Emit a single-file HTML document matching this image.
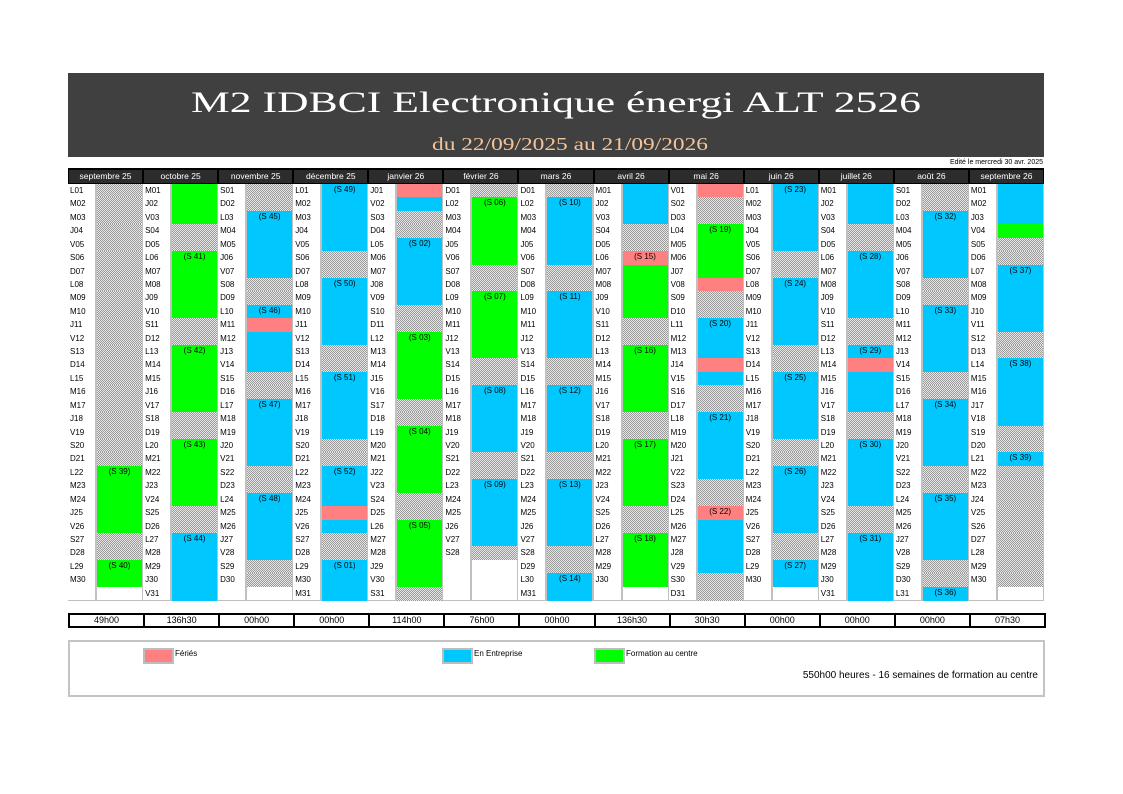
<!DOCTYPE html>
<html><head><meta charset="utf-8">
<style>
body{margin:0;background:#fff;width:1123px;height:794px;position:relative;overflow:hidden;font-family:"Liberation Sans",sans-serif;}
.abs{position:absolute;}
.hatch{background-color:#c4c4c4;background-image:repeating-conic-gradient(#9a9a9a 0 25%,#e6e6e6 0 50%);background-size:2px 2px;}
.lbl{position:absolute;font-size:8px;color:#000;line-height:13px;padding-left:2px;white-space:nowrap;}
.bar{position:absolute;}
.wk{position:absolute;font-size:8px;width:100%;text-align:center;top:1px;color:#000;}
.mh{position:absolute;top:170px;height:13px;background:#2c2c2c;color:#fff;font-size:8.5px;text-align:center;line-height:13px;}
.tot{position:absolute;top:613px;height:11px;border:2px solid #000;font-size:9px;line-height:11px;text-align:center;background:#fff;box-sizing:content-box;}
.sw{position:absolute;top:648px;width:27px;height:12px;border:2px solid #bdbdbd;}
.lt{position:absolute;top:649px;font-size:8px;}
</style></head>
<body>
<div class="abs" style="left:68px;top:73px;width:976px;height:84px;background:#404040;">
<svg width="976" height="84" style="position:absolute;left:0;top:0">
<text x="123" y="39" textLength="730" lengthAdjust="spacingAndGlyphs" font-family="Liberation Serif, serif" font-size="30" fill="#fff">M2 IDBCI Electronique énergi ALT 2526</text>
<text x="364" y="77" textLength="276" lengthAdjust="spacingAndGlyphs" font-family="Liberation Serif, serif" font-size="18" fill="#f3c49a">du 22/09/2025 au 21/09/2026</text>
</svg></div>
<div class="abs" style="right:80px;top:159px;font-size:7px;">Edité le mercredi 30 avr. 2025</div>
<div class="abs" style="left:68px;top:168px;width:976px;height:16px;background:#000;"></div>
<div class="abs" style="left:68px;top:184px;width:976px;height:417px;background:#c0c0c0;"></div>
<div id="cal"></div>
<div class="abs" style="left:68px;top:640px;width:973px;height:53px;border:2px solid #c4c4c4;"></div>
<div class="sw" style="left:143px;background:#ff8080;"></div>
<div class="lt" style="left:175px;">Fériés</div>
<div class="sw" style="left:442px;background:#00c8ff;"></div>
<div class="lt" style="left:474px;">En Entreprise</div>
<div class="sw" style="left:594px;background:#00ff00;"></div>
<div class="lt" style="left:626px;">Formation au centre</div>
<div class="abs" style="right:85px;top:670px;font-size:10px;">550h00 heures - 16 semaines de formation au centre</div>
<script>
const months=["septembre 25","octobre 25","novembre 25","décembre 25","janvier 26","février 26","mars 26","avril 26","mai 26","juin 26","juillet 26","août 26","septembre 26"];
const years=[2025,2025,2025,2025,2026,2026,2026,2026,2026,2026,2026,2026,2026];
const monthIdx=[8,9,10,11,0,1,2,3,4,5,6,7,8];
const dayStatus=[
"WWWWWWWWWWWWWWWWWWWWWFFFFFWWFF",
"FFFWWFFFFFWWFFFFFWWFFFFFWWEEEEE",
"WWEEEEEWWEHEEEWWEEEEEWWEEEEEWW",
"EEEEEWWEEEEEWWEEEEEWWEEEHEWWEEE",
"HEWWEEEEEWWFFFFFWWFFFFFWWFFFFFW",
"WFFFFFWWFFFFFWWEEEEEWWEEEEEW",
"WEEEEEWWEEEEEWWEEEEEWWEEEEEWWEE",
"EEEWWHFFFFWWFFFFFWWFFFFFWWFFFF",
"HWWFFFFHWWEEEHEWWEEEEEWWHEEEEWW",
"EEEEEWWEEEEEWWEEEEEWWEEEEEWWEE",
"EEEWWEEEEEWWEHEEEWWEEEEEWWEEEEE",
"WWEEEEEWWEEEEEWWEEEEEWWEEEEEWWE",
"EEEFWWEEEEEWWEEEEEWEWWWWWWWWWWW".slice(0,0)+"EEEFWWEEEEEWWEEEEEWWEWWWWWWWWW"
];
const totals=["49h00","136h30","00h00","00h00","114h00","76h00","00h00","136h30","30h30","00h00","00h00","00h00","07h30"];
const startDate=new Date(2025,8,22), endDate=new Date(2026,8,21);
const colors={E:"#00c8ff",F:"#00ff00",H:"#ff8080"};
const dn=["D","L","M","M","J","V","S"];
const X0=68,CW=976/13,Y0=184,RH=13.42;
function isoWeek(d){const t=new Date(Date.UTC(d.getFullYear(),d.getMonth(),d.getDate()));const day=t.getUTCDay()||7;t.setUTCDate(t.getUTCDate()+4-day);const y0=new Date(Date.UTC(t.getUTCFullYear(),0,1));return Math.ceil(((t-y0)/86400000+1)/7);}
const cal=document.getElementById('cal');
months.forEach((m,i)=>{
  const x=X0+i*CW;
  const h=document.createElement('div');h.className='mh';
  
  
  h.style.left=(x+1)+'px';h.style.width=(CW-2)+'px';h.textContent=m;cal.appendChild(h);
  const lc=document.createElement('div');lc.className='abs';
  
  
  lc.style.cssText=`left:${x}px;top:${Y0}px;width:27px;height:${31*RH}px;background:#fff`;cal.appendChild(lc);
  const bc=document.createElement('div');bc.className='abs';
  
  
  bc.style.cssText=`left:${x+29}px;top:${Y0}px;width:45px;height:${31*RH}px;background:#fff`;cal.appendChild(bc);
  const st=dayStatus[i];
  for(let d=1;d<=st.length;d++){
    const date=new Date(years[i],monthIdx[i],d);
    const y=Y0+(d-1)*RH;
    const l=document.createElement('div');l.className='lbl';
    
    
    l.style.left=x+'px';l.style.top=y+'px';
    l.textContent=dn[date.getDay()]+String(d).padStart(2,'0');cal.appendChild(l);
    const s=st[d-1];
    const b=document.createElement('div');b.className='bar'+(s==='W'?' hatch':'');
    
    
    b.style.cssText+=`left:${x+29}px;top:${y}px;width:45px;height:${RH+0.5}px;`+(s!=='W'?`background:${colors[s]};`:'');
    if(date.getDay()===1&&date>=startDate&&date<=endDate){
      const w=document.createElement('div');w.className='wk';
      
      
      w.textContent='(S '+String(isoWeek(date)).padStart(2,'0')+')';b.appendChild(w);
    }
    cal.appendChild(b);
  }
  const t=document.createElement('div');t.className='tot';
  
  
  t.style.left=(x)+'px';t.style.width=(CW-2)+'px';t.textContent=totals[i];cal.appendChild(t);
});
</script>
</body></html>
